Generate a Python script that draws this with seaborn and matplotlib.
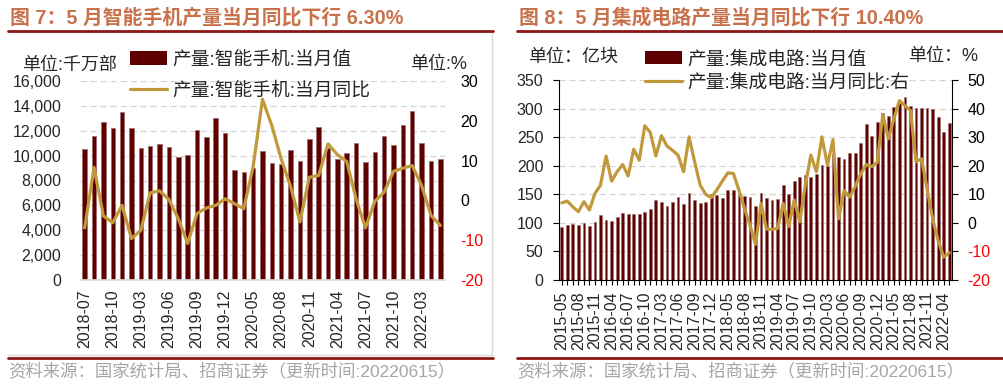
import numpy as np
import pandas as pd
import matplotlib
matplotlib.use('Agg')
import matplotlib.pyplot as plt
import seaborn as sns
from matplotlib.patches import Patch
from matplotlib.lines import Line2D
from matplotlib.ticker import FuncFormatter


# month categories: Jan and Feb are not reported separately
def months(start, end):
    out = []
    y, m = start
    while (y, m) <= end:
        if m > 2:
            out.append(f"{y}-{m:02d}")
        m += 1
        if m > 12:
            y, m = y + 1, 1
    return out


phone_months = months((2018, 7), (2022, 5))
phone_output = [10500, 11570, 12670, 12250, 13530, 12190, 10610, 10770, 10960, 10670,
                9890, 10080, 12030, 11500, 13020, 11820, 8820, 8690, 9000, 10350,
                9440, 9360, 10420, 9570, 11330, 12300, 10600, 9700, 10240, 10990,
                9490, 10260, 11550, 10850, 12430, 13550, 10990, 9600, 9760]
phone_yoy = [-6.9, 8.3, -3.9, -5.6, -1.25, -9.6, -7.5, 1.9, 2.4, 0.25,
             -4.6, -10.8, -3.3, -1.9, -1.25, 0.4, -0.8, -2.1, 8.5, 25.4,
             18.75, 10.4, 3.5, -5.4, 5.8, 6.25, 14.2, 11.5, 9.75, 0.4,
             -6.9, -0.25, 2.1, 7.3, 8.1, 8.75, 3.75, -3.75, -6.3]

ic_months = months((2015, 5), (2022, 5))
ic_output = [93, 96.5, 98, 95.5, 99, 94, 102, 113, 105, 103.7,
             110.3, 117.3, 114.7, 115.5, 116, 119.5, 125, 140, 137, 129.6,
             136.4, 145.3, 133.7, 152.6, 140, 135.3, 136.3, 150, 149.5, 144.2,
             157, 158.1, 150.5, 146.8, 145.9, 130, 153.1, 143.8, 139.2, 141.6,
             166, 149.7, 173, 180.5, 183.6, 179.8, 185.5, 202, 199.2, 220.3,
             215.6, 211.5, 222.6, 222.6, 240, 272.7, 252.8, 276.7, 291.4, 286.7,
             303, 310, 321, 305, 301, 301, 301, 300, 285.5, 259, 275.6]
ic_yoy = [7.0, 7.6, 5.6, 3.9, 7.4, 4.5, 10.3, 13.2, 23.4, 14.6,
          17.9, 20.4, 16.4, 25.8, 21.9, 34.0, 31.6, 23.4, 30.5, 26.9,
          25.4, 23.7, 17.9, 30.1, 21.4, 13.2, 10.0, 8.8, 11.5, 14.6,
          17.5, 17.3, 11.5, 5.1, -0.8, -7.5, 6.8, -2.2, -2.3, -1.9,
          6.8, -1.3, 8.0, 0.4, 13.2, 23.7, 17.9, 30.1, 20.2, 29.1,
          1.4, 11.3, 9.0, 12.7, 17.1, 20.4, 19.7, 21.2, 37.9, 29.4,
          36.4, 42.8, 41.0, 39.3, 21.4, 22.4, 11.9, 1.4, -6.2, -12.0, -10.4]

BAR = '#5E0000'
BAR_EDGE = '#A07070'
GOLD = '#C1993B'
TITLE = '#C8714B'
DARKRED = '#8E1616'
GRID = '#D4D4D4'
SOURCE = '#A6A6A6'

sns.set_theme(style='white')
plt.rcParams['font.family'] = ['Liberation Sans', 'Noto Sans CJK SC']
plt.rcParams['axes.unicode_minus'] = False

W, H = 1004, 386
fig = plt.figure(figsize=(W / 100, H / 100), dpi=100)


def px_axes(x0, y0, x1, y1):
    return fig.add_axes([x0 / W, 1 - y1 / H, (x1 - x0) / W, (y1 - y0) / H])


def fy(y):
    return 1 - y / H


def color_right_labels(ax, ticks):
    for t, v in zip(ax.get_yticklabels(), ticks):
        t.set_color('#FF0000' if v < 0 else 'black')


# ---------------- left chart: smartphones ----------------
df1 = pd.DataFrame({'month': phone_months, 'output': phone_output,
                    'yoy': phone_yoy, 'pos': np.arange(len(phone_months))})
ax1 = px_axes(80, 81, 445, 280)
sns.barplot(data=df1, x='month', y='output', color=BAR, saturation=1, width=0.48,
            edgecolor=BAR_EDGE, linewidth=0.6, ax=ax1, zorder=2)
ax1.set_xlim(-0.5, len(df1) - 0.5)
ax1.set_ylim(0, 16000)
ax1.set_yticks(range(0, 16001, 2000))
ax1.yaxis.set_major_formatter(FuncFormatter(lambda v, p: f"{int(v):,}"))
ax1.set_axisbelow(True)
ax1.grid(axis='y', color=GRID, linestyle=(0, (5, 3)), linewidth=0.9)
ax1.set_xticks(range(0, len(df1), 3))
ax1.set_xticklabels(phone_months[::3], rotation=90)
ax1.tick_params(axis='x', length=0, pad=7, labelsize=11.5)
ax1.tick_params(axis='y', length=0, pad=13.5, labelsize=11.5)
ax1.set_xlabel('')
ax1.set_ylabel('')
for s in ['left', 'top', 'right']:
    ax1.spines[s].set_visible(False)
ax1.spines['bottom'].set_color('#D9D9D9')

ax1b = ax1.twinx()
sns.lineplot(data=df1, x='pos', y='yoy', color=GOLD, linewidth=2.3, ax=ax1b)
ax1b.set_ylim(-20, 30)
r1 = [-20, -10, 0, 10, 20, 30]
ax1b.set_yticks(r1)
ax1b.tick_params(axis='y', length=0, pad=11, labelsize=11.5)
color_right_labels(ax1b, r1)
ax1b.set_ylabel('')
for s in ax1b.spines.values():
    s.set_visible(False)

fig.legend(handles=[Patch(facecolor=BAR, edgecolor='none'),
                    Line2D([0], [0], color=GOLD, lw=2.3)],
           labels=['产量:智能手机:当月值', '产量:智能手机:当月同比'],
           loc='upper left', bbox_to_anchor=(130 / W, fy(51)), frameon=False,
           fontsize=13.5, handlelength=2.0, handletextpad=0.25, labelspacing=0.72,
           borderpad=0, borderaxespad=0)
fig.text(22 / W, fy(65), '单位:千万部', fontsize=13, va='center')
fig.text(410 / W, fy(65), '单位:%', fontsize=13, va='center')

# ---------------- right chart: integrated circuits ----------------
df2 = pd.DataFrame({'month': ic_months, 'output': ic_output,
                    'yoy': ic_yoy, 'pos': np.arange(len(ic_months))})
ax2 = px_axes(559, 80, 952, 280)
sns.barplot(data=df2, x='month', y='output', color=BAR, saturation=1, width=0.5,
            edgecolor=BAR_EDGE, linewidth=0.4, ax=ax2, zorder=2)
ax2.set_xlim(-0.5, len(df2) - 0.5)
ax2.set_ylim(0, 350)
ax2.set_yticks(range(0, 351, 50))
ax2.set_axisbelow(True)
ax2.grid(axis='y', color=GRID, linestyle=(0, (5, 3)), linewidth=0.9)
ax2.set_xticks(range(0, len(df2), 3))
ax2.set_xticklabels(ic_months[::3], rotation=90)
ax2.set_xticks(range(len(df2)), minor=True)
ax2.tick_params(axis='x', which='both', direction='out', length=3.6, width=0.8,
                color='black', pad=4.5, labelsize=11.5, bottom=True)
ax2.tick_params(axis='y', direction='out', length=4.3, width=0.8, color='black',
                pad=7, labelsize=11.5, left=True)
ax2.set_xlabel('')
ax2.set_ylabel('')
for s in ['top', 'right']:
    ax2.spines[s].set_visible(False)
for s in ['left', 'bottom']:
    ax2.spines[s].set_color('black')
    ax2.spines[s].set_linewidth(0.8)

ax2b = ax2.twinx()
sns.lineplot(data=df2, x='pos', y='yoy', color=GOLD, linewidth=2.3, ax=ax2b)
ax2b.set_ylim(-20, 50)
r2 = [-20, -10, 0, 10, 20, 30, 40, 50]
ax2b.set_yticks(r2)
ax2b.tick_params(axis='y', direction='out', length=4.3, width=0.8, color='black',
                 pad=7, labelsize=11.5, right=True)
color_right_labels(ax2b, r2)
ax2b.set_ylabel('')
for s in ['top', 'left', 'bottom']:
    ax2b.spines[s].set_visible(False)
ax2b.spines['right'].set_color('black')
ax2b.spines['right'].set_linewidth(0.8)

fig.legend(handles=[Patch(facecolor=BAR, edgecolor='none'),
                    Line2D([0], [0], color=GOLD, lw=2.3)],
           labels=['产量:集成电路:当月值', '产量:集成电路:当月同比:右'],
           loc='upper left', bbox_to_anchor=(645 / W, fy(51)), frameon=False,
           fontsize=13.5, handlelength=2.0, handletextpad=0.25, labelspacing=0.33,
           borderpad=0, borderaxespad=0)
fig.text(528 / W, fy(57), '单位：亿块', fontsize=13, va='center')
fig.text(908 / W, fy(57), '单位：%', fontsize=13, va='center')

# ---------------- titles, frames and source notes ----------------
fig.text(10 / W, fy(18), '图 7：5 月智能手机产量当月同比下行 6.30%', fontsize=14.3,
         fontweight='bold', color=TITLE, va='center')
fig.text(519 / W, fy(18), '图 8：5 月集成电路产量当月同比下行 10.40%', fontsize=14.3,
         fontweight='bold', color=TITLE, va='center')

for x0, x1 in [(8, 493), (517, 1004)]:
    fig.add_artist(Line2D([x0 / W, x1 / W], [fy(31), fy(31)], color=DARKRED, lw=2))
    fig.add_artist(Line2D([x0 / W, x1 / W], [fy(358), fy(358)], color=DARKRED, lw=2))

# light frame around the left chart area
fig.add_artist(Line2D([492 / W, 492 / W], [fy(33), fy(355)], color='#D9D9D9', lw=1))
fig.add_artist(Line2D([8 / W, 492 / W], [fy(355), fy(355)], color='#D9D9D9', lw=1))

src = '资料来源：国家统计局、招商证券（更新时间:20220615）'
fig.text(8 / W, fy(371), src, fontsize=12.5, color=SOURCE, va='center')
fig.text(517 / W, fy(371), src, fontsize=12.5, color=SOURCE, va='center')

fig.savefig('out.png', dpi=100)
